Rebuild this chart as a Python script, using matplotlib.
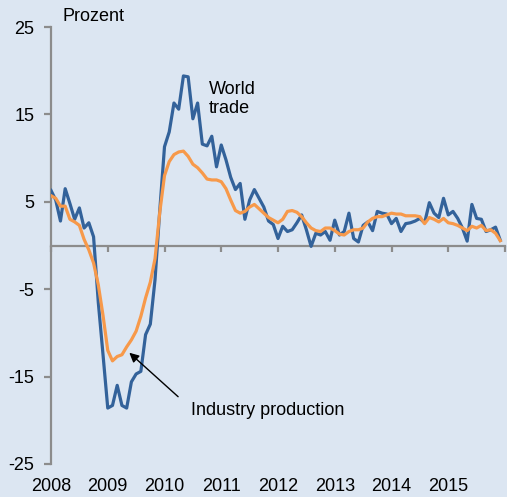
import matplotlib
matplotlib.use("Agg")
import matplotlib.pyplot as plt
import numpy as np
import pandas as pd

plt.rcParams['font.family'] = ['Liberation Sans', 'DejaVu Sans']

months = pd.date_range("2008-01-01", periods=96, freq="MS")
x = months.year + (months.month - 1) / 12.0

world_trade = [
    6.3, 5.2, 2.8, 6.5, 4.8, 3.0, 4.3, 2.0, 2.6, 1.0, -6.5, -12.5,
    -18.6, -18.3, -16.0, -18.3, -18.6, -15.6, -14.7, -14.4, -10.2, -9.0, -3.9, 4.0,
    11.3, 13.0, 16.3, 15.6, 19.4, 19.3, 14.5, 16.3, 11.6, 11.4, 12.5, 9.0,
    11.5, 9.8, 7.8, 6.4, 7.1, 3.0, 5.2, 6.4, 5.4, 4.4, 2.8, 2.4,
    0.8, 2.2, 1.6, 1.8, 2.6, 3.5, 1.8, -0.1, 1.4, 1.2, 1.6, 0.6,
    2.9, 1.2, 1.6, 3.7, 0.8, 0.4, 2.3, 2.7, 1.7, 3.9, 3.7, 3.6,
    2.5, 3.1, 1.6, 2.5, 2.6, 2.8, 3.1, 2.6, 4.9, 3.7, 3.2, 5.4,
    3.5, 3.9, 3.1, 2.0, 0.5, 4.7, 3.1, 3.0, 1.6, 1.8, 2.1, 0.6,
]
industry_production = [
    5.7, 5.4, 4.5, 4.5, 3.0, 2.7, 2.3, 0.7, -0.5, -2.0, -4.5, -8.0,
    -12.0, -13.2, -12.7, -12.5, -11.6, -10.8, -9.8, -8.1, -6.0, -4.2, -1.5, 3.8,
    8.0, 9.6, 10.4, 10.7, 10.8, 10.2, 9.3, 8.9, 8.3, 7.6, 7.5, 7.5,
    7.3, 6.5, 5.2, 4.0, 3.7, 3.9, 4.4, 4.7, 4.2, 3.7, 3.2, 2.9,
    2.6, 3.0, 3.9, 4.0, 3.8, 3.3, 2.6, 2.0, 1.7, 1.6, 2.0, 2.0,
    1.7, 1.3, 1.2, 1.6, 1.8, 1.8, 2.0, 2.7, 3.1, 3.3, 3.3, 3.5,
    3.7, 3.6, 3.6, 3.4, 3.4, 3.4, 3.3, 2.5, 3.2, 3.0, 2.7, 3.1,
    2.6, 2.5, 2.3, 2.0, 1.7, 2.2, 2.0, 2.3, 1.7, 1.8, 1.4, 0.55,
]
year_labels = ["2008", "2009", "2010", "2011", "2012", "2013", "2014", "2015"]
year_ticks = [2008, 2009, 2010, 2011, 2012, 2013, 2014, 2015, 2016]
y_ticks = [25, 15, 5, -5, -15, -25]

bg = "#dce6f2"
axis_gray = "#8c8c8c"
blue = "#33629a"
orange = "#f7994a"

W, H = 507, 497
fig = plt.figure(figsize=(W / 100, H / 100), dpi=100, facecolor=bg)
ax = fig.add_axes([51 / W, (H - 464) / H, 454 / W, 437 / H], facecolor=bg)

ax.plot(x, world_trade, color=blue, lw=2.3, zorder=3, solid_joinstyle="round")
ax.plot(x, industry_production, color=orange, lw=2.3, zorder=4, solid_joinstyle="round")

ax.set_xlim(2008, 2016)
ax.set_ylim(-25, 25)

for s in ["top", "right"]:
    ax.spines[s].set_visible(False)
ax.spines["left"].set_color(axis_gray)
ax.spines["left"].set_linewidth(1.6)
ax.spines["bottom"].set_position(("data", 0))
ax.spines["bottom"].set_color(axis_gray)
ax.spines["bottom"].set_linewidth(1.6)

ax.set_yticks(y_ticks)
ax.set_yticklabels([str(v) for v in y_ticks])
ax.tick_params(axis="y", direction="out", length=5, width=1.6, color=axis_gray,
               labelsize=13, pad=7, labelcolor="black")

ax.set_xticks(year_ticks)
ax.tick_params(axis="x", direction="out", length=4, width=1.6, color=axis_gray,
               labelbottom=False)

sec = ax.secondary_xaxis(0)
sec.set_xticks(year_ticks[:-1])
sec.set_xticklabels(year_labels)
sec.tick_params(axis="x", length=0, labelsize=13, pad=10)
sec.spines["bottom"].set_visible(False)

fig.text(63 / W, 1 - 16.5 / H, "Prozent", fontsize=13, va="center", ha="left")

ax.text(2010.78, 18.8, "World\ntrade", fontsize=13, va="top", ha="left",
        linespacing=1.15)

ax.text(2010.46, -18.9, "Industry production", fontsize=13, va="center", ha="left")
ax.annotate("", xy=(2009.38, -12.27), xytext=(2010.24, -17.3),
            arrowprops=dict(arrowstyle="-|>", color="black", lw=1.0,
                            mutation_scale=14, shrinkA=0, shrinkB=0),
            zorder=5)

fig.savefig("out.png", dpi=100, facecolor=bg)
